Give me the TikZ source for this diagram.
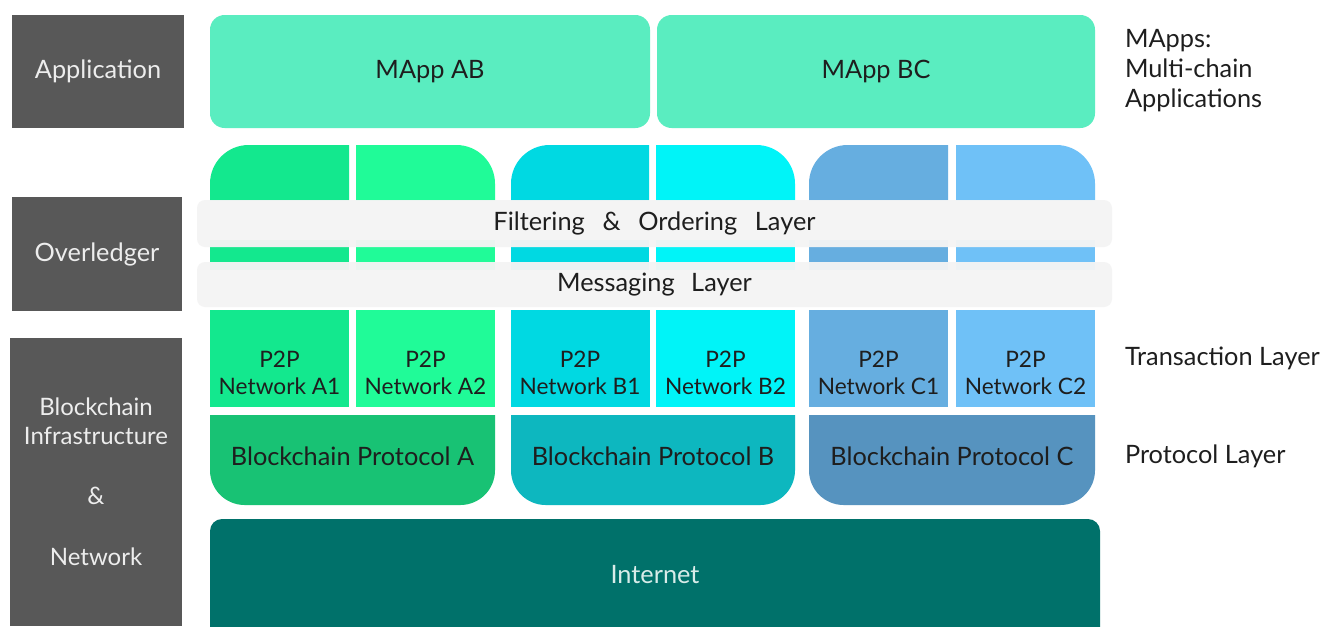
\documentclass[tikz,border=0pt]{standalone}
\usepackage{fontspec}
\setmainfont{Lato}
\definecolor{graybox}{HTML}{585858}
\definecolor{gtext}{HTML}{EDEDED}
\definecolor{darktext}{HTML}{1E1E1E}
\definecolor{mappc}{HTML}{5AEDC0}
\definecolor{colAa}{HTML}{13E88E}
\definecolor{colAb}{HTML}{20FB98}
\definecolor{protA}{HTML}{18C274}
\definecolor{colBa}{HTML}{00D9E2}
\definecolor{colBb}{HTML}{00F4F8}
\definecolor{protB}{HTML}{0DB7BF}
\definecolor{colCa}{HTML}{66AEE0}
\definecolor{colCb}{HTML}{6FC1F7}
\definecolor{protC}{HTML}{5693BF}
\definecolor{inetc}{HTML}{00716A}
\definecolor{inettext}{HTML}{D8ECE9}
\definecolor{bandc}{HTML}{F4F4F4}
\begin{document}
\begin{tikzpicture}[x=0.75pt,y=-0.75pt,
  every node/.style={inner sep=0pt, outer sep=0pt},
  gbox/.style={fill=graybox, text=gtext, font=\fontsize{19}{23}\selectfont, align=center},
  mapp/.style={fill=mappc, rounded corners=11pt, text=darktext, font=\fontsize{19}{23}\selectfont, minimum height=84.75pt},
  band/.style={fill=bandc, fill opacity=0.96, text opacity=1, rounded corners=6pt, text=darktext, font=\fontsize{19}{23}\selectfont, minimum width=686.25pt},
  p2pbox/.style={minimum width=104.25pt, minimum height=72.75pt},
  ptext/.style={text=darktext, align=center, font=\fontsize{17}{20.25}\selectfont},
  prtext/.style={text=darktext, font=\fontsize{19}{23}\selectfont},
  rlabel/.style={text=darktext, anchor=west, align=left, font=\fontsize{19}{22.5}\selectfont}
]
\useasboundingbox (0,0) rectangle (1325,626);
\fill[white] (0,0) rectangle (1325,626);

% left category boxes
\node[gbox, minimum width=129pt, minimum height=84.75pt] (app) at (98,71.5) {Application};
\node[gbox, minimum width=127.5pt, minimum height=85.5pt] (ovl) at (97,254) {Overledger};
\node[gbox, minimum width=129pt, minimum height=216pt, font=\fontsize{18}{21.75}\selectfont] (bin) at (96,482)
  {Blockchain\\Infrastructure\\[23.25pt]\&\\[24pt]Network};

% application layer
\node[mapp, minimum width=330pt] (mab) at (430,71.5) {MApp AB};
\node[mapp, minimum width=328.5pt] (mbc) at (876,71.5) {MApp BC};

% column tops (group A)
\begin{scope}
\clip (210,145) rectangle (349,200);
\fill[colAa, rounded corners=29pt] (210,145) rectangle (495,300);
\end{scope}
\begin{scope}
\clip (356,145) rectangle (495,200);
\fill[colAb, rounded corners=29pt] (210,145) rectangle (495,300);
\end{scope}
% group B
\begin{scope}
\clip (511,145) rectangle (649,200);
\fill[colBa, rounded corners=29pt] (511,145) rectangle (795,300);
\end{scope}
\begin{scope}
\clip (656,145) rectangle (795,200);
\fill[colBb, rounded corners=29pt] (511,145) rectangle (795,300);
\end{scope}
% group C
\begin{scope}
\clip (809,145) rectangle (948,200);
\fill[colCa, rounded corners=29pt] (809,145) rectangle (1095,300);
\end{scope}
\begin{scope}
\clip (956,145) rectangle (1095,200);
\fill[colCb, rounded corners=29pt] (809,145) rectangle (1095,300);
\end{scope}
% middle pieces between bands
\fill[colAa] (210,240) rectangle (349,270);
\fill[colAb] (356,240) rectangle (495,270);
\fill[colBa] (511,240) rectangle (649,270);
\fill[colBb] (656,240) rectangle (795,270);
\fill[colCa] (809,240) rectangle (948,270);
\fill[colCb] (956,240) rectangle (1095,270);

% overledger bands
\node[band, minimum height=35.25pt] (fol) at (654.5,223.5)
  {Filtering\hspace{0.7em}\&\hspace{0.7em}Ordering\hspace{0.7em}Layer};
\node[band, minimum height=33.75pt] (msg) at (654.5,284.5)
  {Messaging\hspace{0.65em}Layer};

% P2P networks
\node[p2pbox, fill=colAa] (pA1) at (279.5,358.5) {};
\node[p2pbox, fill=colAb] (pA2) at (425.5,358.5) {};
\node[p2pbox, fill=colBa] (pB1) at (580,358.5) {};
\node[p2pbox, fill=colBb] (pB2) at (725.5,358.5) {};
\node[p2pbox, fill=colCa] (pC1) at (878.5,358.5) {};
\node[p2pbox, fill=colCb] (pC2) at (1025.5,358.5) {};
\node[ptext] (tA1) at (279.5,373) {P2P\\Network A1};
\node[ptext] (tA2) at (425.5,373) {P2P\\Network A2};
\node[ptext] (tB1) at (580,373) {P2P\\Network B1};
\node[ptext] (tB2) at (725.5,373) {P2P\\Network B2};
\node[ptext] (tC1) at (878.5,373) {P2P\\Network C1};
\node[ptext] (tC2) at (1025.5,373) {P2P\\Network C2};

% protocols
\begin{scope}
\clip (210,415) rectangle (495,505);
\fill[protA, rounded corners=26pt] (210,380) rectangle (495,505);
\end{scope}
\begin{scope}
\clip (511,415) rectangle (795,505);
\fill[protB, rounded corners=26pt] (511,380) rectangle (795,505);
\end{scope}
\begin{scope}
\clip (809,415) rectangle (1095,505);
\fill[protC, rounded corners=26pt] (809,380) rectangle (1095,505);
\end{scope}
\node[prtext] (prA) at (352.5,456) {Blockchain Protocol A};
\node[prtext] (prB) at (653,456) {Blockchain Protocol B};
\node[prtext] (prC) at (952,456) {Blockchain Protocol C};

% internet
\begin{scope}
\clip (0,0) rectangle (1325,626);
\fill[inetc, rounded corners=9pt] (210,519) rectangle (1100,680);
\end{scope}
\node[text=inettext, font=\fontsize{19}{23}\selectfont] (inet) at (655,575) {Internet};

% right labels
\node[rlabel] (lmapps) at (1125,71) {MApps:\\Multi-chain\\Applications};
\node[rlabel] (ltx) at (1125,358) {Transaction Layer};
\node[rlabel] (lpr) at (1125,456) {Protocol Layer};
\end{tikzpicture}
\end{document}
